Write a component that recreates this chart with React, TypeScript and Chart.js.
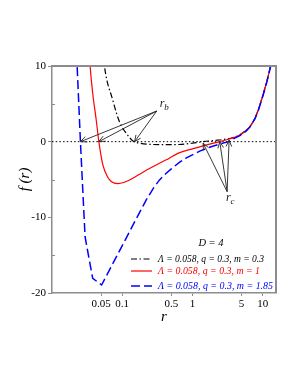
import { useEffect, useRef } from "react";
import { Chart, registerables } from "chart.js";

Chart.register(...registerables);

// ---- data ----
const rBlack = [0.052, 0.0558, 0.0733, 0.0917, 0.12, 0.142, 0.18, 0.25, 0.4, 0.7, 1.0, 1.42, 2.0, 3.06, 3.8, 4.74, 5.9, 6.6, 7.76, 8.66, 10.2, 11.5, 12.95, 14];
const fBlack = [13, 10, 5.5, 2.6, 0.85, 0.1, -0.2, -0.35, -0.4, -0.35, -0.2, 0, 0.15, 0.35, 0.55, 0.9, 1.55, 2.0, 3.1, 4.2, 6.3, 8.0, 9.95, 11.5];

const rRed = [0.033, 0.0349, 0.038, 0.0426, 0.0465, 0.0528, 0.0623, 0.0705, 0.0866, 0.105, 0.127, 0.177, 0.245, 0.34, 0.425, 0.528, 0.658, 1.0, 1.42, 2.0, 2.45, 3.06, 3.8, 4.74, 5.9, 6.6, 7.76, 8.66, 10.2, 11.5, 12.95, 14];
const fRed = [14, 10, 6.4, 2.9, 0, -3.0, -4.7, -5.3, -5.55, -5.4, -5.07, -4.3, -3.55, -2.85, -2.4, -1.9, -1.45, -0.95, -0.55, -0.2, 0, 0.25, 0.5, 0.88, 1.55, 2.0, 3.1, 4.2, 6.3, 8.0, 9.95, 11.5];

const rBlue = [0.0215, 0.0228, 0.0254, 0.0274, 0.0296, 0.0322, 0.038, 0.0509, 0.0776, 0.114, 0.15, 0.22, 0.28, 0.34, 0.42, 0.5, 0.658, 0.82, 1.0, 1.27, 1.8, 2.45, 3.3, 3.8, 4.74, 5.9, 6.6, 7.76, 8.66, 10.2, 11.5, 12.95, 14];
const fBlue = [15, 10, 0, -6.3, -12.56, -14.45, -18.06, -18.94, -15.7, -12.75, -10.6, -7.7, -6.1, -5.05, -4.2, -3.6, -2.7, -2.15, -1.75, -1.25, -0.7, -0.3, 0, 0.35, 0.79, 1.45, 1.95, 3.0, 4.1, 6.2, 7.9, 9.9, 11.5];

const xRange = [0.01, 15.5];
const yRange = [-20, 10];
const xTickValues = [0.05, 0.1, 0.5, 1, 5, 10];
const xTickLabels = ["0.05", "0.1", "0.5", "1", "5", "10"];
const yMajorTicks = [-20, -10, 0, 10];
const yMinorTicks = [-15, -5, 5];

const rbRoots = [0.0254, 0.0464, 0.15];
const rbRootF = [0, 0, 0];
const rbAnchor = [0.31, 4.05];
const rcRoots = [1.42, 2.45, 3.33];
const rcRootF = [-0.2, 0, 0.2];
const rcAnchor = [3.12, -6.6];

const legendTitle = "D = 4";
const legendLabels = [
  "Λ = 0.058, q = 0.3, m = 0.3",
  "Λ = 0.058, q = 0.3, m = 1",
  "Λ = 0.058, q = 0.3, m = 1.85",
];
const seriesColors = ["#000000", "#ff0000", "#0000ff"];
const seriesDash = [[6, 2.5, 1.5, 2.5], [], [9, 4]];
const seriesWidth = [1.2, 1.2, 1.5];

const SERIF = "'Liberation Serif', 'Times New Roman', serif";
const AXIS_GRAY = "#8c8c8c";

const pts = (rs: number[], fs: number[]) => rs.map((r, i) => ({ x: r, y: fs[i] }));

const annotPlugin = {
  id: "annot",
  afterDatasetsDraw(chart: any) {
    const { ctx, chartArea: a, scales } = chart;
    const xs = scales.x;
    const ys = scales.y;
    ctx.save();
    // frame top/right
    ctx.strokeStyle = AXIS_GRAY;
    ctx.lineWidth = 2;
    ctx.beginPath();
    ctx.moveTo(a.left, a.top);
    ctx.lineTo(a.right, a.top);
    ctx.lineTo(a.right, a.bottom);
    ctx.stroke();
    // minor y ticks (inward)
    ctx.lineWidth = 1;
    yMinorTicks.forEach((v) => {
      const py = Math.round(ys.getPixelForValue(v)) + 0.5;
      ctx.beginPath();
      ctx.moveTo(a.left, py);
      ctx.lineTo(a.left + 3, py);
      ctx.stroke();
    });

    const arrow = (x0: number, y0: number, x1: number, y1: number) => {
      ctx.beginPath();
      ctx.moveTo(x0, y0);
      ctx.lineTo(x1, y1);
      const ang = Math.atan2(y1 - y0, x1 - x0);
      const L = 7;
      const w = 0.42;
      ctx.moveTo(x1 - L * Math.cos(ang - w), y1 - L * Math.sin(ang - w));
      ctx.lineTo(x1, y1);
      ctx.lineTo(x1 - L * Math.cos(ang + w), y1 - L * Math.sin(ang + w));
      ctx.stroke();
    };
    ctx.strokeStyle = "#222";
    ctx.lineWidth = 0.9;
    const bx = xs.getPixelForValue(rbAnchor[0]);
    const by = ys.getPixelForValue(rbAnchor[1]);
    rbRoots.forEach((r, i) => arrow(bx, by, xs.getPixelForValue(r), ys.getPixelForValue(rbRootF[i])));
    const cx = xs.getPixelForValue(rcAnchor[0]);
    const cy = ys.getPixelForValue(rcAnchor[1]);
    rcRoots.forEach((r, i) => arrow(cx, cy, xs.getPixelForValue(r), ys.getPixelForValue(rcRootF[i])));

    // r_b, r_c labels
    ctx.fillStyle = "#222";
    ctx.textBaseline = "middle";
    ctx.textAlign = "left";
    ctx.font = `italic 12px ${SERIF}`;
    ctx.fillText("r", bx + 3, by - 7);
    ctx.fillText("r", cx - 1, cy + 6);
    ctx.font = `italic 9px ${SERIF}`;
    ctx.fillText("b", bx + 7.5, by - 3);
    ctx.fillText("c", cx + 3.5, cy + 10.5);

    // legend
    const lx0 = a.left + 79;
    const lx1 = a.left + 100;
    const tx = a.left + 106;
    const rowsY = [a.top + 193, a.top + 205, a.top + 220];
    const rowsW = [106, 102, 115];
    ctx.fillStyle = "#000";
    ctx.font = `italic 10.5px ${SERIF}`;
    ctx.textAlign = "center";
    ctx.fillText(legendTitle, a.left + 159, a.top + 177);
    ctx.textAlign = "left";
    legendLabels.forEach((lab, i) => {
      const yy = rowsY[i];
      ctx.strokeStyle = seriesColors[i];
      ctx.lineWidth = seriesWidth[i];
      ctx.setLineDash(seriesDash[i]);
      ctx.beginPath();
      ctx.moveTo(lx0, yy);
      ctx.lineTo(lx1, yy);
      ctx.stroke();
      ctx.setLineDash([]);
      ctx.fillStyle = seriesColors[i];
      ctx.fillText(lab, tx, yy, rowsW[i]);
    });

    // axis titles
    ctx.fillStyle = "#000";
    ctx.font = `italic 15px ${SERIF}`;
    ctx.textAlign = "center";
    ctx.fillText("r", (a.left + a.right) / 2, a.bottom + 24);
    ctx.save();
    ctx.translate(25, (a.top + a.bottom) / 2);
    ctx.rotate(-Math.PI / 2);
    ctx.fillText("f (r)", 0, 0);
    ctx.restore();
    ctx.restore();
  },
};

export default function App() {
  const ref = useRef<HTMLCanvasElement | null>(null);
  useEffect(() => {
    if (!ref.current) return;
    const mk = (rs: number[], fs: number[], i: number) => ({
      data: pts(rs, fs),
      borderColor: seriesColors[i],
      borderWidth: seriesWidth[i],
      borderDash: seriesDash[i],
      showLine: true,
      pointRadius: 0,
      tension: 0,
      cubicInterpolationMode: i === 2 ? "default" : "monotone",
      order: 3 - i,
    });
    const chart = new Chart(ref.current, {
      type: "scatter",
      data: {
        datasets: [
          {
            data: pts(xRange, [0, 0]),
            borderColor: "#000",
            borderWidth: 1,
            borderDash: [1.5, 2.2],
            showLine: true,
            pointRadius: 0,
            order: 10,
          } as any,
          mk(rBlack, fBlack, 0),
          mk(rRed, fRed, 1),
          mk(rBlue, fBlue, 2),
        ],
      },
      options: {
        responsive: false,
        animation: false,
        devicePixelRatio: 1,
        layout: { padding: { left: 0, right: 22, top: 66, bottom: 62 } },
        plugins: { legend: { display: false }, tooltip: { enabled: false } },
        scales: {
          x: {
            type: "logarithmic",
            min: xRange[0],
            max: xRange[1],
            bounds: "data",
            afterBuildTicks: (s: any) => {
              s.ticks = xTickValues.map((v) => ({ value: v }));
            },
            afterFit: (s: any) => {
              s.height = 30;
            },
            ticks: {
              autoSkip: false,
              maxRotation: 0,
              color: "#000",
              padding: 2,
              font: { family: SERIF, size: 11 },
              callback: (v: any) => {
                const idx = xTickValues.indexOf(Number(v));
                return idx >= 0 ? xTickLabels[idx] : "";
              },
            },
            grid: { drawOnChartArea: false, drawTicks: true, tickLength: 3, color: AXIS_GRAY },
            border: { color: AXIS_GRAY, width: 1.5 },
          },
          y: {
            type: "linear",
            min: yRange[0],
            max: yRange[1],
            afterBuildTicks: (s: any) => {
              s.ticks = yMajorTicks.map((v) => ({ value: v }));
            },
            afterFit: (s: any) => {
              s.width = 52;
            },
            ticks: {
              color: "#000",
              padding: 2,
              font: { family: SERIF, size: 11 },
              callback: (v: any) => String(v),
            },
            grid: { drawOnChartArea: false, drawTicks: true, tickLength: 4, color: AXIS_GRAY },
            border: { color: AXIS_GRAY, width: 1.5 },
          },
        },
      } as any,
      plugins: [annotPlugin],
    });
    return () => chart.destroy();
  }, []);
  return (
    <div style={{ position: "absolute", left: 0, top: 0, width: 298, height: 385, background: "#fff" }}>
      <canvas ref={ref} width={298} height={385} style={{ display: "block" }} />
    </div>
  );
}
